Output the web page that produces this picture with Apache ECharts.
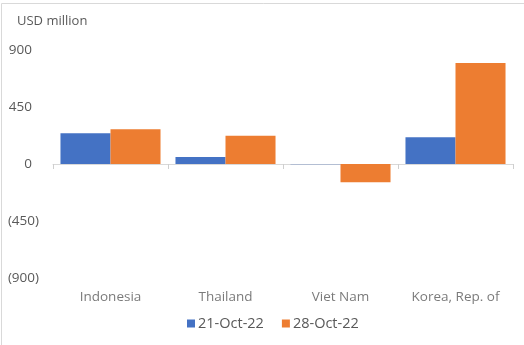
<!DOCTYPE html>
<html>
<head>
<meta charset="utf-8">
<script src="https://cdn.jsdelivr.net/npm/echarts@6/dist/echarts.min.js"></script>
<style>
html,body{margin:0;padding:0;background:#fff;}
#main{width:524px;height:345px;}
</style>
</head>
<body>
<div id="main"></div>
<script>
var countries = ['Indonesia', 'Thailand', 'Viet Nam', 'Korea, Rep. of'];
var seriesNames = ['21-Oct-22', '28-Oct-22'];
var oct21 = [242, 55, -2, 211];
var oct28 = [274, 223, -145, 797];
var yTicks = [-900, -450, 0, 450, 900];

var txt = '#595959';
var fnt = 'Open Sans';

function fmt(v){
	if(v < 0){
		return '(' + Math.abs(v) + ')';
	}
	return v + '  ';
}

var myChart = echarts.init(document.getElementById('main'));
var option = {
	animation: false,
	textStyle: {fontFamily: fnt},
	title: {
		text: 'USD million',
		left: 12,
		top: 10,
		textStyle: {fontSize: 13, fontWeight: 'normal', color: txt, fontFamily: fnt}
	},
	graphic: [{
		type: 'rect',
		shape: {x: 1.5, y: 3.5, width: 700, height: 500},
		style: {fill: 'none', stroke: '#d9d9d9', lineWidth: 1},
		silent: true
	}],
	legend: {
		bottom: 9,
		left: 182,
		itemWidth: 8,
		itemHeight: 8,
		itemGap: 18,
		icon: 'rect',
		textStyle: {fontSize: 14.5, color: txt, fontFamily: fnt, padding: [0, 0, 0, -2]},
		data: seriesNames
	},
	grid: {left: 53, right: 11, top: 50, bottom: 67},
	xAxis: {
		type: 'category',
		data: countries,
		position: 'bottom',
		axisLine: {onZero: true, lineStyle: {color: '#d9d9d9'}},
		axisTick: {show: true, length: 5, lineStyle: {color: '#cfcfcf'}},
		axisLabel: {show: false}
	},
	yAxis: {
		type: 'value',
		min: yTicks[0],
		max: yTicks[yTicks.length - 1],
		interval: yTicks[1] - yTicks[0],
		splitLine: {show: false},
		axisLine: {show: false},
		axisTick: {show: false},
		axisLabel: {
			color: txt, fontSize: 13.5, fontFamily: fnt, margin: 14,
			formatter: fmt
		}
	},
	series: [
		{
			name: seriesNames[0],
			type: 'bar',
			data: oct21,
			barGap: '0%',
			barCategoryGap: '13%',
			itemStyle: {color: '#4472C4'}
		},
		{
			name: seriesNames[1],
			type: 'bar',
			data: oct28,
			itemStyle: {color: '#ED7D31'}
		},
		{
			// category names below the plot
			type: 'scatter',
			data: countries.map(function(c){ return [c, yTicks[0]]; }),
			symbolSize: 0,
			silent: true,
			label: {
				show: true,
				position: 'bottom',
				distance: 12,
				formatter: function(p){ return p.value[0]; },
				color: txt,
				fontSize: 13.5,
				fontFamily: fnt
			}
		}
	]
};
myChart.setOption(option);
</script>
</body>
</html>
